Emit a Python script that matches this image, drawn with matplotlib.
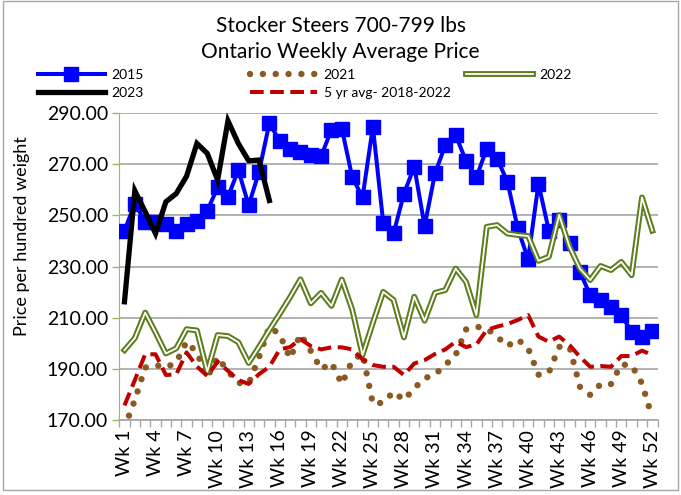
import matplotlib
matplotlib.use("Agg")
import matplotlib.pyplot as plt
import matplotlib.patheffects as pe
from matplotlib.patches import Rectangle
import numpy as np

plt.rcParams['font.family'] = ['Lato', 'DejaVu Sans']

weeks = np.arange(1, 53)
tick_weeks = np.arange(1, 53, 3)
tick_labels = ["Wk %d" % w for w in tick_weeks]

y2015 = [244.0, 254.6, 247.5, 247.5, 246.6, 244.0, 246.6, 247.9, 251.8, 260.9,
         257.2, 267.7, 253.9, 267.0, 286.1, 278.9, 276.0, 274.8, 273.5, 273.1,
         283.5, 283.9, 265.0, 257.0, 284.6, 247.1, 242.9, 258.5, 269.0, 245.8,
         266.4, 277.4, 281.3, 271.3, 264.8, 276.1, 272.2, 263.1, 244.9, 232.8,
         262.4, 244.0, 248.1, 239.3, 227.9, 218.8, 216.9, 214.3, 211.0, 204.5,
         202.6, 204.9]

y2021 = [167.0, 177.8, 190.5, 191.5, 190.5, 192.5, 200.6, 196.3, 186.7, 194.5,
         189.0, 184.5, 184.2, 194.5, 206.5, 203.4, 194.1, 203.5, 197.0, 189.8,
         192.4, 184.1, 193.2, 196.0, 176.3, 176.8, 181.0, 177.8, 182.4, 186.3,
         187.8, 191.5, 195.4, 205.4, 206.5, 205.7, 202.6, 198.9, 201.5, 198.0,
         187.7, 188.5, 198.6, 198.6, 183.0, 179.8, 184.0, 184.0, 191.7, 191.4,
         184.3, 170.8]

y2022 = [197.3, 202.0, 212.0, 204.2, 196.0, 198.0, 205.5, 205.0, 188.9, 203.2,
         202.8, 200.4, 192.3, 198.6, 205.2, 211.5, 218.0, 225.0, 215.6, 219.7,
         214.6, 224.9, 213.2, 195.4, 208.0, 220.1, 216.9, 202.3, 218.2, 208.8,
         219.7, 220.8, 229.2, 224.0, 211.0, 245.5, 246.2, 242.9, 242.3, 241.9,
         232.2, 233.8, 250.1, 237.7, 229.2, 224.7, 230.2, 228.6, 231.8, 226.6,
         257.0, 244.0]

y2023 = [216.2, 259.6, 251.4, 242.9, 255.3, 258.5, 265.3, 278.1, 274.2, 263.8,
         286.9, 278.1, 271.3, 271.6, 255.8]

y5yr = [175.7, 185.6, 195.7, 195.7, 187.6, 187.8, 196.4, 190.9, 187.2, 192.8,
        189.2, 185.6, 184.1, 187.9, 190.8, 197.6, 198.5, 201.6, 198.9, 197.6,
        198.4, 198.4, 197.6, 193.7, 191.5, 190.8, 190.8, 187.6, 192.1, 193.4,
        195.8, 197.6, 200.6, 198.5, 199.5, 205.2, 206.5, 207.5, 209.1, 211.0,
        202.6, 200.6, 202.6, 199.3, 194.7, 190.8, 191.1, 190.8, 195.0, 195.0,
        197.1, 195.4]

fig = plt.figure(figsize=(6.81, 4.95), dpi=100)
ax = fig.add_axes([119.3 / 681, 1 - 420 / 495, (657.5 - 119.3) / 681, (420 - 113) / 495])

green = '#5E7D1C'
brown = '#8A5A22'

l15, = ax.plot(weeks, y2015, color='#0000FF', lw=2.9, marker='s', ms=10,
               label='2015', zorder=3)
l21, = ax.plot(weeks, y2021, color=brown, lw=4.6, linestyle=(0, (0.01, 2.0)),
               dash_capstyle='round', label='2021', zorder=4)
l22, = ax.plot(weeks, y2022, color='white', lw=1.3, label='2022', zorder=5,
               path_effects=[pe.Stroke(linewidth=4.2, foreground=green), pe.Normal()])
l23, = ax.plot(weeks[:len(y2023)], y2023, color='black', lw=3.8, label='2023',
               zorder=6, solid_joinstyle='miter')
l5, = ax.plot(weeks, y5yr, color='#C00000', lw=2.9, linestyle=(0, (3.4, 1.6)),
              label='5 yr avg- 2018-2022', zorder=7)

ax.set_xlim(0.5, 52.5)
ax.set_ylim(170, 290)
ax.set_yticks(np.arange(170, 291, 20))
ax.set_yticklabels(["%.2f" % v for v in np.arange(170, 291, 20)])
ax.set_xticks(tick_weeks)
ax.set_xticklabels(tick_labels, rotation=90)
ax.set_xticks(np.arange(0.5, 53, 1), minor=True)
ax.tick_params(axis='x', which='major', length=0, pad=7, labelsize=14)
ax.tick_params(axis='x', which='minor', length=5, color='#A6A6A6', width=1)
ax.tick_params(axis='y', length=5, color='#9BBB59', width=1, labelsize=14, pad=3)
ax.grid(axis='y', color='#A6A6A6', lw=1.2)
ax.set_axisbelow(True)
for s in ['top', 'right']:
    ax.spines[s].set_visible(False)
ax.spines['left'].set_color('#9BBB59')
ax.spines['bottom'].set_color('#A6A6A6')
ax.spines['bottom'].set_linewidth(1.2)

fig.text(340.5 / 681, 1 - 26 / 495, "Stocker Steers 700-799 lbs", ha='center',
         va='center', fontsize=15)
fig.text(340.5 / 681, 1 - 52 / 495, "Ontario Weekly Average Price", ha='center',
         va='center', fontsize=15)
fig.text(22 / 681, 1 - 236 / 495, "Price per hundred weight", rotation=90,
         ha='center', va='center', fontsize=13)

def col_legend(handles, x):
    leg = fig.legend(handles=handles, loc='upper left',
                     bbox_to_anchor=(x / 681, 1 - 69 / 495), frameon=False,
                     fontsize=10, handlelength=4.8, handletextpad=0.5,
                     borderpad=0, borderaxespad=0, labelspacing=0.45)
    return leg

col_legend([l15, l23], 38)
col_legend([l21, l5], 250)
col_legend([l22], 466)

fig.add_artist(Rectangle((3 / 681, 1 - 490 / 495), 675 / 681, 489 / 495,
                         transform=fig.transFigure, fill=False,
                         edgecolor='#A6A6A6', lw=1))

fig.savefig('out.png', dpi=100)
